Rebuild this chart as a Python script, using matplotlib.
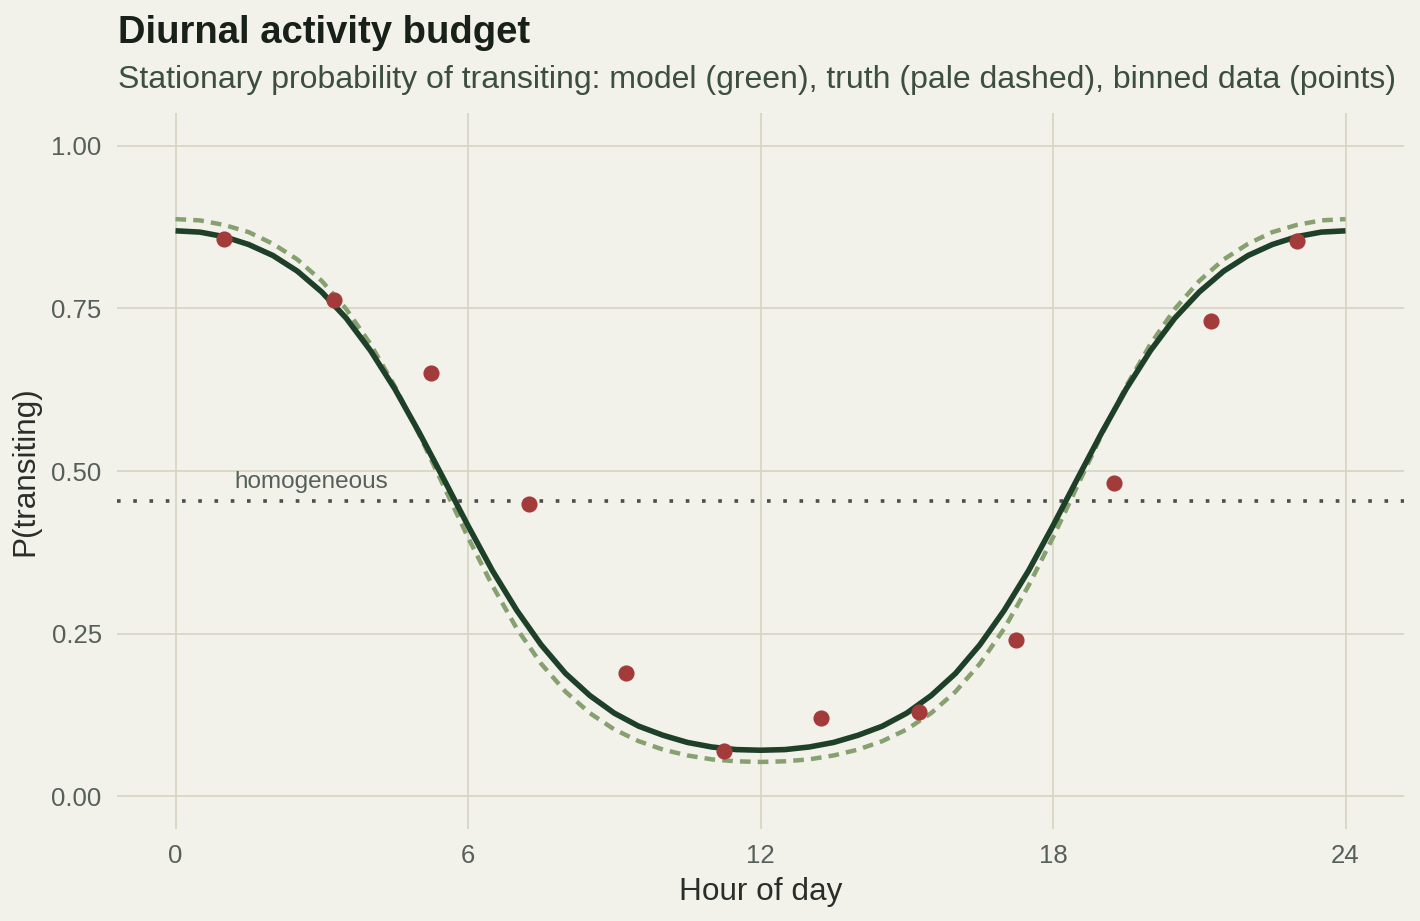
import matplotlib.pyplot as plt

plt.rcParams['font.family'] = ['Liberation Sans', 'DejaVu Sans']

# hourly grid for the two curves (0.5 h steps)
hours = [i * 0.5 for i in range(49)]

# fitted model, P(transiting), hours 0..12 (symmetric about noon)
model_half = [0.869, 0.867, 0.860, 0.848, 0.831, 0.807, 0.775, 0.735, 0.685,
              0.626, 0.559, 0.488, 0.416, 0.347, 0.286, 0.233, 0.189, 0.155,
              0.128, 0.108, 0.094, 0.083, 0.076, 0.072, 0.071]
# true curve, hours 0..12
truth_half = [0.887, 0.885, 0.878, 0.867, 0.849, 0.825, 0.792, 0.749, 0.695,
              0.630, 0.556, 0.477, 0.398, 0.324, 0.258, 0.204, 0.161, 0.128,
              0.103, 0.085, 0.072, 0.063, 0.057, 0.054, 0.053]
model = model_half + model_half[-2::-1]
truth = truth_half + truth_half[-2::-1]

# binned observations
bin_hour = [1.0, 3.25, 5.25, 7.25, 9.25, 11.25, 13.25, 15.25, 17.25, 19.25, 21.25, 23.0]
bin_prob = [0.857, 0.762, 0.650, 0.450, 0.190, 0.070, 0.120, 0.130, 0.240, 0.481, 0.730, 0.854]

homogeneous = 0.454

bg = '#F2F1EA'
fig = plt.figure(figsize=(14.2, 9.21), dpi=100, facecolor=bg)
ax = fig.add_axes([117 / 1420, 92 / 921, 1287 / 1420, 716 / 921], facecolor=bg)

ax.grid(True, color='#D6D5C3', linewidth=1.2)
ax.set_axisbelow(True)
for s in ax.spines.values():
    s.set_visible(False)

ax.axhline(homogeneous, color='#4A4F4A', linewidth=2.6, linestyle=(0, (1, 3.5)))
ax.text(1.2, homogeneous + 0.012, 'homogeneous', fontsize=17.5, color='#55605A',
        ha='left', va='bottom')

ax.plot(hours, truth, color='#86A06F', linewidth=3.2, linestyle=(0, (2.4, 1.6)))
ax.plot(hours, model, color='#1E4029', linewidth=4.0, solid_capstyle='butt')
ax.scatter(bin_hour, bin_prob, s=135, color='#A33B3B', zorder=5, linewidths=0)

ax.set_xlim(-1.2, 25.2)
ax.set_ylim(-0.05, 1.05)
ax.set_xticks([0, 6, 12, 18, 24])
ax.set_yticks([0, 0.25, 0.5, 0.75, 1.0])
ax.set_yticklabels(['0.00', '0.25', '0.50', '0.75', '1.00'])
ax.tick_params(length=0, labelsize=18.5, labelcolor='#55605A')
ax.tick_params(axis='x', pad=11)
ax.tick_params(axis='y', pad=11)

ax.set_xlabel('Hour of day', fontsize=22.7, color='#2A2E2A', labelpad=6)
ax.set_ylabel('P(transiting)', fontsize=22.7, color='#2A2E2A', labelpad=8)

fig.text(118 / 1420, 1 - 43 / 921, 'Diurnal activity budget', fontsize=27.5,
         fontweight='bold', color='#182119', ha='left', va='baseline')
fig.text(118 / 1420, 1 - 88 / 921,
         'Stationary probability of transiting: model (green), truth (pale dashed), binned data (points)',
         fontsize=23, color='#3B4E3F', ha='left', va='baseline')

fig.savefig('out.png', dpi=100, facecolor=bg)
